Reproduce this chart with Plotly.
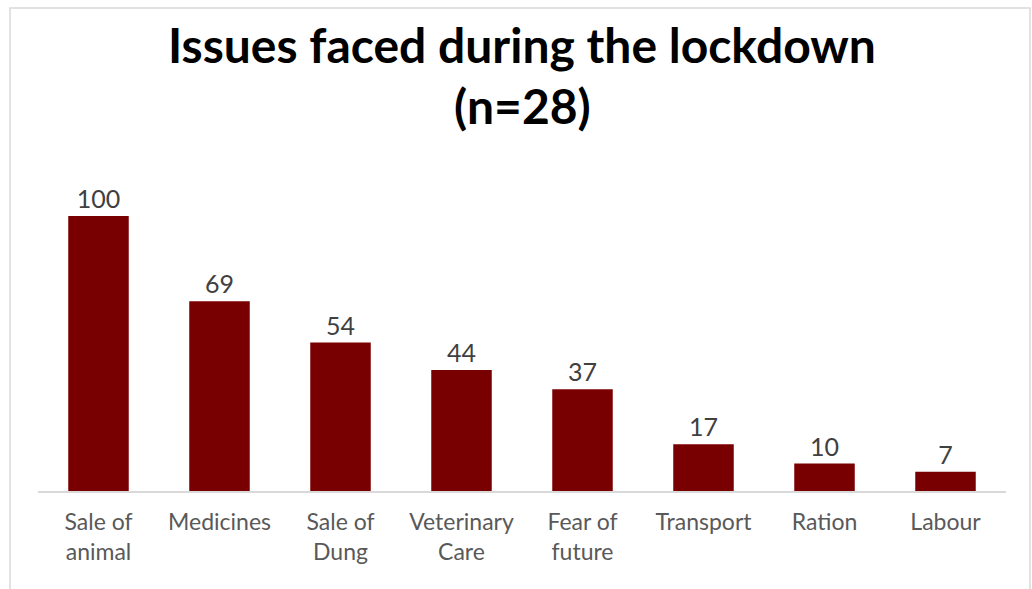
import plotly.graph_objects as go

categories = ["Sale of<br>animal", "Medicines", "Sale of<br>Dung", "Veterinary<br>Care",
              "Fear of<br>future", "Transport", "Ration", "Labour"]
values = [100, 69, 54, 44, 37, 17, 10, 7]
title_lines = ["Issues faced during the lockdown", "(n=28)"]

BAR_COLOR = "#790000"
FONT = "Lato"

fig = go.Figure(
    go.Bar(
        x=categories,
        y=values,
        marker=dict(color=BAR_COLOR, line=dict(width=0)),
        text=[str(v) for v in values],
        textposition="outside",
        textfont=dict(family=FONT, size=25, color="#404040"),
        cliponaxis=False,
    )
)

# two-line title drawn as separate annotations for exact line spacing
title_ann = [
    dict(text=f"<b>{line}</b>", xref="paper", yref="paper", x=0.5, y=y,
         xanchor="center", yanchor="middle", showarrow=False,
         font=dict(family=FONT, size=48, color="black"))
    for line, y in zip(title_lines, [(491 - 45) / 330, (491 - 105) / 330])
]

fig.update_layout(
    width=1032,
    height=589,
    margin=dict(l=38, r=26, t=161, b=98),
    paper_bgcolor="white",
    plot_bgcolor="white",
    bargap=0.5,
    showlegend=False,
    annotations=title_ann,
    shapes=[
        dict(type="rect", xref="paper", yref="paper",
             x0=-28 / 968, x1=(1030 - 38) / 968, y0=-0.5, y1=(491 - 8) / 330,
             line=dict(color="#d9d9d9", width=1.5), fillcolor="rgba(0,0,0,0)", layer="below"),
    ],
)

fig.update_xaxes(
    showline=True,
    linecolor="#d9d9d9",
    linewidth=1.5,
    showgrid=False,
    ticks="",
    tickfont=dict(family=FONT, size=23, color="#595959"),
    ticklabelstandoff=10,
)
fig.update_yaxes(
    range=[0, 120],
    visible=False,
    showgrid=False,
)

fig.write_html("out.html")
